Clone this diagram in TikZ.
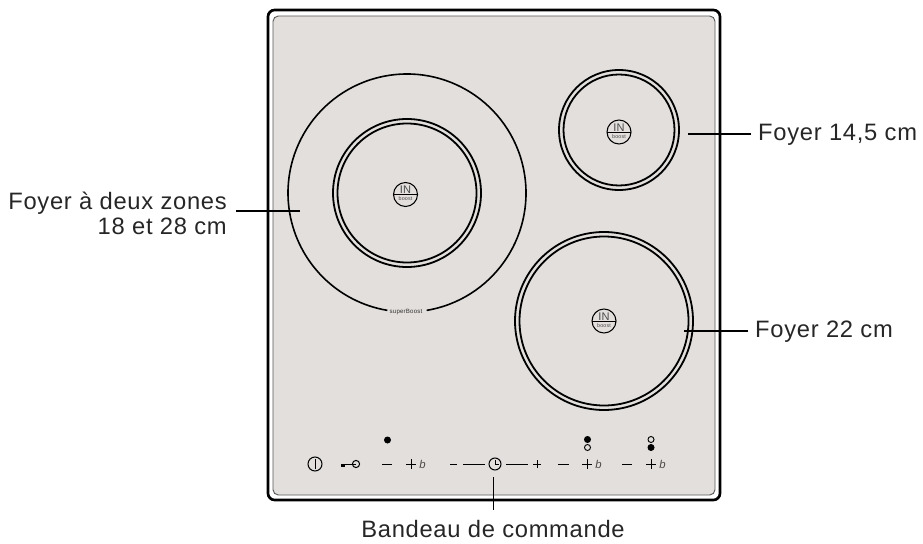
\documentclass[tikz,border=0pt]{standalone}
\usepackage{fontspec}
\setmainfont{Liberation Sans}[LetterSpace=3]
\usetikzlibrary{positioning}
\definecolor{panel}{HTML}{E2DFDC}

\tikzset{
    caption/.style={font=\fontsize{17.8}{18.75}\selectfont, inner xsep=5pt, inner ysep=2pt, text=black!85},
    leader/.style={line width=1.3pt},
    ring/.style={line width=1.35pt},
    key/.style={line width=0.75pt},
    led/.style={line width=0.7pt, draw=black}
}
% small IN / boost badge in the middle of a zone
\newcommand{\boostbadge}[1]{
    \draw[line width=0.8pt, fill=panel] (#1) circle (12);
    \draw[line width=0.7pt] ([xshift=-9pt]#1) -- ([xshift=9pt]#1);
    \node[inner sep=0pt, above=0.5pt of #1, font=\fontsize{8.3}{9}\selectfont, text=black!70] (in#1) {IN};
    \node[inner sep=0pt, below=1.5pt of #1, font=\fontsize{4}{5}\selectfont, text=black!70] (boost#1) {boost};
}
\newcommand{\plusb}[1]{
    \draw[key] ([xshift=-3.4pt]#1) -- ([xshift=3.4pt]#1);
    \draw[key] ([yshift=-3.4pt]#1) -- ([yshift=3.4pt]#1);
    \node[inner sep=0pt, right=6pt of #1, font=\fontsize{8.5}{9}\selectfont\itshape, text=black!70] (b#1) {b};
}

\begin{document}
\begin{tikzpicture}[x=0.75pt, y=0.75pt]
    \useasboundingbox (0,0) rectangle (923,543);

    % hob outline
    \draw[line width=2pt, rounded corners=5pt] (268,43) rectangle (720,533);
    \draw[line width=0.7pt, draw=black!65, rounded corners=4pt, fill=panel] (273,48) rectangle (715,527);

    % zones
    \coordinate (bigcentre) at (407,350);
    \coordinate (smallcentre) at (619,413);
    \coordinate (largecentre) at (604,222);
    \coordinate (badgedouble) at (405.5,348.5);
    \coordinate (badgesmall) at (619,411);

    \draw[line width=1.2pt] (bigcentre) ++(-80.5:119) arc[start angle=-80.5, end angle=260.5, radius=119];
    \node[inner sep=0pt, font=\fontsize{4.6}{5}\selectfont, text=black!80] (superboost) at (406,231) {superBoost};
    \foreach \r in {74, 69.5} \draw[ring] (bigcentre) circle (\r);
    \foreach \r in {60, 55.5} \draw[ring] (smallcentre) circle (\r);
    \foreach \r in {89, 84.5} \draw[ring] (largecentre) circle (\r);

    \boostbadge{badgedouble}
    \boostbadge{badgesmall}
    \boostbadge{largecentre}

    % control strip
    \coordinate (power) at (315,79);
    \draw[key] (power) circle (7);
    \draw[key] ([yshift=-4pt]power) -- ([yshift=4pt]power);

    \coordinate (keyring) at (356,79);
    \draw[key] (keyring) circle (3.6);
    \draw[key] (341,79) -- (keyring);
    \fill (341,76.5) rectangle (345,79);

    \draw[key] (382,79) -- (392,79);
    \coordinate (plusa) at (411,79);
    \plusb{plusa}
    \fill (387.5,103) circle (3.5);

    \draw[key] (450,79) -- (457,79);
    \draw[key] (463,79) -- (485,79);
    \coordinate (clock) at (495,79);
    \draw[key] (clock) circle (6);
    \draw[key] (495,83) -- (clock) -- (498.5,79);
    \draw[key] (506,79) -- (528,79);
    \draw[key] (533,79) -- (541,79);
    \draw[key] (537,75) -- (537,83);

    \draw[key] (558,79) -- (569,79);
    \coordinate (plusc) at (587,79);
    \plusb{plusc}
    \fill[black, led] (587.5,103.5) circle (3);
    \draw[led] (587.5,95.5) circle (3);

    \draw[key] (622,79) -- (632,79);
    \coordinate (plusd) at (651,79);
    \plusb{plusd}
    \draw[led] (651,103.5) circle (3);
    \fill[black, led] (651,95.5) circle (3);

    % captions
    \node[caption, align=right, anchor=east, inner xsep=6.75pt] (twozones) at (236,330) {Foyer à deux zones\\18 et 28 cm};
    \node[caption, anchor=base west] (foyersmall) at (751.3,402.3) {Foyer 14,5 cm};
    \node[caption, anchor=base west] (foyerlarge) at (748.3,205.5) {Foyer 22 cm};
    \node[caption, anchor=base, inner ysep=7.5pt] (bandeau) at (493,5.3) {Bandeau de commande};

    \coordinate (zonedouble) at (300,332);
    \coordinate (zonesmall) at (688,409);
    \coordinate (zonelarge) at (684,212);
    \coordinate (strip) at (493.7,66);

    \draw[leader] (twozones.east |- zonedouble) -- (zonedouble);
    \draw[leader] (foyersmall.west |- zonesmall) -- (zonesmall);
    \draw[leader] (foyerlarge.west |- zonelarge) -- (zonelarge);
    \draw[line width=0.5pt] (strip) -- (strip |- bandeau.north);
\end{tikzpicture}
\end{document}
